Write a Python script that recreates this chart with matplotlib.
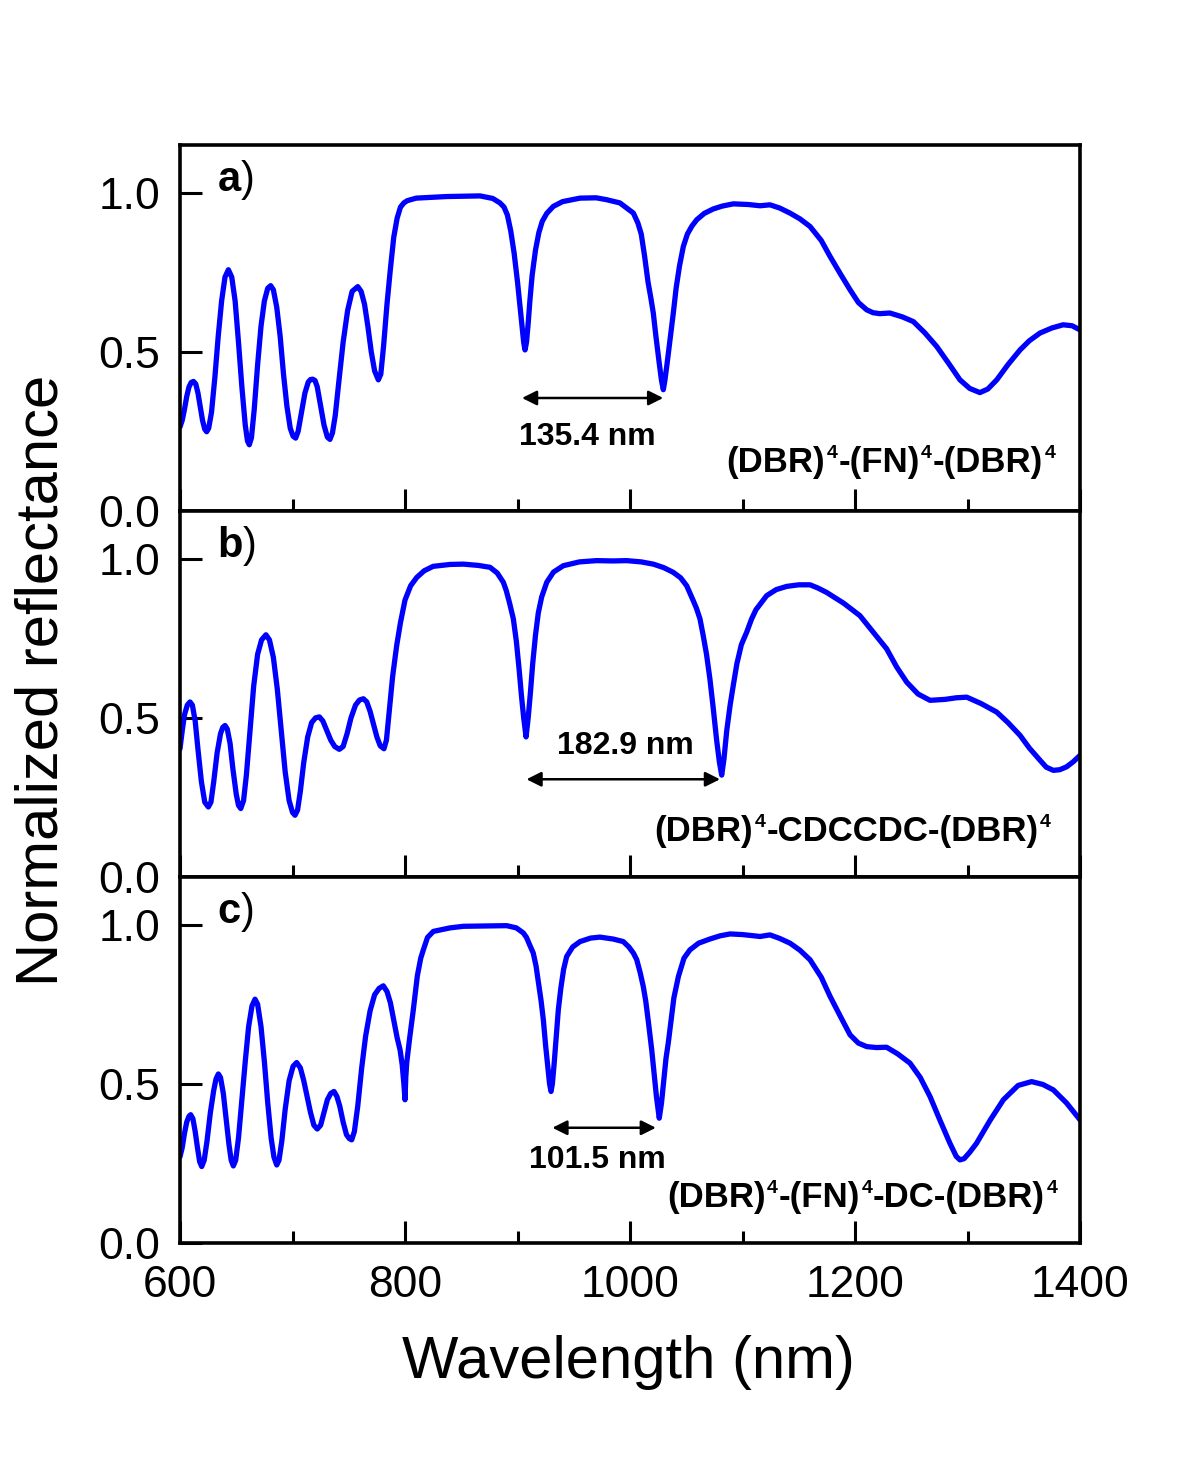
import matplotlib
matplotlib.use("Agg")
import matplotlib.pyplot as plt
from matplotlib.ticker import MultipleLocator

plt.rcParams['font.family'] = ['Liberation Sans', 'DejaVu Sans']
plt.rcParams['mathtext.fontset'] = 'custom'
plt.rcParams['mathtext.rm'] = 'Liberation Sans'
plt.rcParams['mathtext.bf'] = 'Liberation Sans:bold'
plt.rcParams['mathtext.it'] = 'Liberation Sans:italic'

# ---------------- data ----------------
wl_a = [600, 602, 604, 606, 608, 610, 612, 614, 616, 618, 620, 622, 623.7,
        625.5, 628, 631, 634, 637, 640, 643, 646, 649, 652, 655, 658, 660, 661.6,
        663.5, 666, 669, 672, 675, 678, 680.6, 683, 686, 689, 692, 695, 698, 700.5, 702.8,
        705, 708, 711, 714, 716, 718, 720, 722, 725, 728, 731, 733.3,
        735.5, 738, 741, 745, 749, 753, 758, 761, 764, 767, 770, 773, 776.3,
        778.5, 781, 784, 787, 790, 793, 796, 799, 802, 810, 837, 866.7, 878,
        884.4, 888, 891, 894, 897, 900, 902, 904, 905.5, 906.7, 908, 909.5, 911, 913, 916, 919, 922, 926,
        931.8, 940, 955.6, 970, 979.3, 991,
        1003, 1007, 1010, 1013, 1016, 1018.5, 1020.7, 1023, 1026, 1028, 1029.6, 1031, 1033, 1036, 1038.5,
        1041, 1044, 1047.4, 1051, 1055, 1059.3, 1066, 1074, 1082, 1091.8, 1105, 1115.6, 1124.4,
        1133, 1142.2, 1151, 1160, 1170, 1177.8, 1187, 1195.6, 1203, 1210.4, 1216, 1222, 1231, 1242,
        1251.9, 1262, 1272.6, 1283, 1293.3, 1302, 1311, 1318, 1326, 1336, 1346.7, 1355, 1364.4, 1375,
        1385, 1393, 1400]
r_a = [0.264, 0.285, 0.32, 0.36, 0.39, 0.404, 0.407, 0.399, 0.37, 0.328, 0.285, 0.257, 0.249,
       0.26, 0.31, 0.42, 0.55, 0.66, 0.735, 0.758, 0.735, 0.66, 0.53, 0.39, 0.27, 0.22, 0.208,
       0.23, 0.32, 0.46, 0.58, 0.66, 0.70, 0.708, 0.695, 0.64, 0.55, 0.43, 0.33, 0.26, 0.235, 0.229,
       0.25, 0.31, 0.37, 0.405, 0.413, 0.414, 0.41, 0.39, 0.33, 0.27, 0.232, 0.225,
       0.245, 0.30, 0.40, 0.53, 0.63, 0.69, 0.705, 0.69, 0.65, 0.58, 0.50, 0.44, 0.412,
       0.43, 0.52, 0.65, 0.76, 0.86, 0.92, 0.955, 0.968, 0.975, 0.983, 0.988, 0.99, 0.982,
       0.968, 0.955, 0.93, 0.88, 0.81, 0.72, 0.65, 0.58, 0.53, 0.506, 0.53, 0.59, 0.66, 0.74, 0.82, 0.875,
       0.91, 0.935,
       0.957, 0.972, 0.983, 0.984, 0.978, 0.968,
       0.936, 0.905, 0.87, 0.80, 0.72, 0.67, 0.622, 0.55, 0.464, 0.41, 0.381, 0.41, 0.464, 0.55, 0.622,
       0.70, 0.77, 0.831, 0.87, 0.895, 0.915, 0.935, 0.949, 0.958, 0.965, 0.963, 0.959, 0.962,
       0.952, 0.936, 0.918, 0.894, 0.85, 0.80, 0.745, 0.695, 0.655, 0.632, 0.623, 0.62, 0.622, 0.61,
       0.595, 0.56, 0.517, 0.465, 0.412, 0.385, 0.372, 0.383, 0.412, 0.46, 0.506, 0.535, 0.559, 0.575,
       0.585, 0.582, 0.569]

wl_b = [600, 602, 604, 606.5, 608.9, 611, 613.5, 616, 619, 622, 625.2,
        627.5, 630, 633, 636, 638, 640, 642, 644.5, 647, 650, 652, 654,
        656.5, 659, 662, 665.5, 669, 672.5, 676.4, 679.5, 683, 686.5, 690, 693.5, 697, 700, 702.2,
        704.5, 707, 710, 713.5, 717, 720.5, 723.9, 727, 730.5, 734, 737.5, 741.6,
        745, 748.5, 752, 756, 759.5, 763, 766, 769, 772, 775, 778, 781.3,
        783.5, 786, 789, 792.6, 796, 800, 805, 810.4, 817, 825, 840, 851.9, 865, 875.6, 882,
        887.4, 890, 893, 896.3, 899, 901.5, 903.5, 905.5, 907.6, 909.5, 911.5, 913.5, 916, 918.5, 921.5, 926,
        932, 940.7, 955, 970.4, 985, 997, 1010, 1020.7, 1030, 1038.5, 1045, 1050.4,
        1056, 1059, 1062.2, 1065, 1068, 1071, 1074, 1077, 1079.5, 1081.5, 1083.5, 1086, 1089, 1091.8,
        1095, 1099, 1103.7, 1108, 1112, 1121.5, 1130, 1139.3, 1150, 1160, 1167, 1174.8, 1190, 1204.4,
        1216, 1228.1, 1237, 1246, 1256, 1266.7, 1280, 1290, 1299.3, 1312, 1326, 1336, 1346.7, 1355,
        1364.4, 1370, 1376.3, 1382, 1388, 1394, 1400]
r_b = [0.403, 0.46, 0.51, 0.54, 0.55, 0.54, 0.49, 0.40, 0.30, 0.235, 0.22,
       0.235, 0.30, 0.39, 0.45, 0.47, 0.476, 0.465, 0.42, 0.34, 0.26, 0.225, 0.215,
       0.24, 0.32, 0.45, 0.60, 0.70, 0.745, 0.761, 0.745, 0.69, 0.59, 0.46, 0.33, 0.24, 0.203, 0.194,
       0.21, 0.27, 0.36, 0.44, 0.485, 0.50, 0.503, 0.49, 0.46, 0.43, 0.41, 0.401,
       0.41, 0.45, 0.50, 0.54, 0.556, 0.56, 0.55, 0.52, 0.48, 0.44, 0.412, 0.403,
       0.43, 0.52, 0.63, 0.727, 0.80, 0.87, 0.915, 0.941, 0.962, 0.976, 0.982, 0.983, 0.979, 0.973, 0.955,
       0.926, 0.90, 0.86, 0.811, 0.74, 0.65, 0.57, 0.50, 0.44, 0.50, 0.58, 0.67, 0.76, 0.83, 0.88, 0.926,
       0.958, 0.978, 0.99, 0.994, 0.993, 0.994, 0.99, 0.983, 0.972, 0.957, 0.94, 0.915,
       0.87, 0.845, 0.811, 0.76, 0.70, 0.623, 0.53, 0.43, 0.36, 0.32, 0.37, 0.46, 0.54, 0.602,
       0.67, 0.73, 0.769, 0.81, 0.84, 0.884, 0.903, 0.913, 0.918, 0.918, 0.908, 0.894, 0.86, 0.821,
       0.77, 0.717, 0.66, 0.612, 0.575, 0.555, 0.558, 0.563, 0.565, 0.545, 0.518, 0.485, 0.445, 0.405,
       0.367, 0.345, 0.335, 0.337, 0.346, 0.362, 0.382]

wl_c = [600, 602, 604, 606, 608, 609.5, 611.5, 613.5, 615.5, 617.5, 619.3,
        621.5, 624, 627, 630, 632, 634.1, 636, 638.5, 641, 643.5, 645.5, 647.4,
        649.5, 652, 655, 658, 661, 664, 666.7, 669, 672, 675, 678, 681, 683.5, 686,
        688, 690.5, 693.5, 697, 700.5, 703.7, 707, 710, 713, 716, 719, 722,
        725, 728, 731, 734, 736.9, 739.5, 742, 745, 748, 750.5, 752.6,
        755, 758, 761.5, 765, 769, 773, 777, 780.7, 784, 787, 790, 793, 795.6, 797.5, 799, 800,
        800.7, 801.5, 804, 807.4, 811, 814, 816.3, 820, 825.2, 840, 851.9, 870, 890.4, 899,
        905.2, 908, 911, 914, 916.5, 919, 921, 923, 925, 927, 928.5, 929.8, 931, 932.5, 934.5, 936.3,
        938.5, 941, 943.7, 949, 955.6, 965, 973.3, 985,
        994, 999, 1003, 1006, 1009, 1011.8, 1014, 1016.5, 1019.3, 1021.5, 1023.5, 1026, 1028, 1030, 1032,
        1034, 1036.5, 1039, 1043, 1048, 1053.3, 1061, 1071, 1080, 1088.9, 1100, 1115.6, 1124.4,
        1133, 1142.2, 1151, 1160, 1170, 1177.8, 1187, 1195.6, 1203, 1210.4, 1219, 1228.1, 1238,
        1248.9, 1258, 1266.7, 1275, 1284.4, 1290, 1293.3, 1297, 1302, 1308, 1320, 1331.9, 1345, 1357,
        1367, 1376.3, 1388, 1400]
r_c = [0.271, 0.30, 0.345, 0.38, 0.398, 0.403, 0.39, 0.35, 0.30, 0.255, 0.24,
       0.26, 0.32, 0.41, 0.48, 0.515, 0.531, 0.52, 0.47, 0.39, 0.31, 0.26, 0.242,
       0.26, 0.33, 0.45, 0.57, 0.68, 0.745, 0.766, 0.75, 0.68, 0.57, 0.44, 0.33, 0.27, 0.245,
       0.26, 0.32, 0.42, 0.51, 0.555, 0.567, 0.55, 0.51, 0.46, 0.41, 0.37, 0.358,
       0.37, 0.41, 0.45, 0.47, 0.476, 0.46, 0.43, 0.38, 0.34, 0.328, 0.324,
       0.35, 0.43, 0.55, 0.65, 0.73, 0.78, 0.80, 0.808, 0.79, 0.755, 0.70, 0.645, 0.607, 0.56, 0.50, 0.45,
       0.52, 0.565, 0.64, 0.733, 0.84, 0.895, 0.921, 0.96, 0.979, 0.99, 0.995, 0.996, 0.997, 0.99,
       0.974, 0.96, 0.935, 0.911, 0.87, 0.81, 0.76, 0.70, 0.62, 0.55, 0.50, 0.476, 0.50, 0.56, 0.65, 0.733,
       0.80, 0.86, 0.90, 0.93, 0.947, 0.958, 0.961, 0.955,
       0.947, 0.93, 0.911, 0.89, 0.85, 0.806, 0.76, 0.69, 0.607, 0.53, 0.46, 0.392, 0.44, 0.51, 0.58,
       0.628, 0.70, 0.77, 0.837, 0.895, 0.921, 0.942, 0.955, 0.965, 0.971, 0.969, 0.963, 0.968,
       0.957, 0.942, 0.92, 0.89, 0.835, 0.775, 0.712, 0.654, 0.628, 0.617, 0.614, 0.615, 0.594,
       0.565, 0.52, 0.46, 0.39, 0.313, 0.272, 0.261, 0.265, 0.285, 0.313, 0.385, 0.45, 0.495, 0.507,
       0.498, 0.481, 0.44, 0.387]

panel_tags = ['a', 'b', 'c']
# structure labels: pieces of normal text alternating with superscripts
structures = [['(DBR)', '4', '-(FN)', '4', '-(DBR)', '4'],
              ['(DBR)', '4', '-CDCCDC-(DBR)', '4'],
              ['(DBR)', '4', '-(FN)', '4', '-DC-(DBR)', '4']]
gap_labels = ['135.4 nm', '182.9 nm', '101.5 nm']
arrow_start = [904, 908, 931]
arrow_end = [1029.5, 1080, 1023]
arrow_y = [0.355, 0.307, 0.362]
gap_text_x = [962, 996, 971]
gap_text_y = [0.233, 0.41, 0.26]
struct_x = [1086, 1022, 1033]
struct_y = [0.10, 0.09, 0.09]

x_ticks = [600, 800, 1000, 1200, 1400]
y_ticks = [0.0, 0.5, 1.0]

series = [(wl_a, r_a), (wl_b, r_b), (wl_c, r_c)]

# ---------------- figure ----------------
fig = plt.figure(figsize=(12, 14.63), dpi=100)
left, right = 0.15, 0.90
bottom, top = 0.1504, 0.9009
h = (top - bottom) / 3.0
axes = []
for i in range(3):
    ax = fig.add_axes([left, top - (i + 1) * h, right - left, h])
    axes.append(ax)

big = dict(fontsize=25, fontweight='bold')
small = dict(fontsize=14, fontweight='bold')

for i, ax in enumerate(axes):
    wl, r = series[i]
    ax.plot(wl, r, color='#0000ff', lw=3.8, solid_joinstyle='round', solid_capstyle='round')
    ax.set_xlim(600, 1400)
    ax.set_ylim(0, 1.15)
    ax.set_xticks(x_ticks)
    ax.xaxis.set_minor_locator(MultipleLocator(100))
    ax.set_yticks(y_ticks)
    ax.set_yticklabels(['%.1f' % v for v in y_ticks])
    ax.tick_params(axis='both', which='major', direction='in', length=16, width=2.2,
                   labelsize=32, top=False, right=False)
    ax.tick_params(axis='x', which='minor', direction='in', length=9, width=2.2, top=False)
    ax.tick_params(axis='y', which='major', pad=14)
    ax.tick_params(axis='x', which='major', pad=16)
    if i < 2:
        ax.tick_params(axis='x', labelbottom=False)
    for sp in ax.spines.values():
        sp.set_linewidth(2.6)

    # panel tag
    ax.text(633, 1.04, '$\\mathbf{%s}$)' % panel_tags[i], fontsize=30, ha='left', va='center')

    # gap arrow
    ax.annotate('', xy=(arrow_end[i], arrow_y[i]), xytext=(arrow_start[i], arrow_y[i]),
                arrowprops=dict(arrowstyle='<|-|>', color='black', lw=1.8,
                                mutation_scale=22, shrinkA=0, shrinkB=0))
    ax.text(gap_text_x[i], gap_text_y[i], gap_labels[i], fontsize=23, fontweight='bold',
            ha='center', va='center')

    # structure label with small raised superscripts, chained left to right
    pieces = structures[i]
    last_big = ax.text(struct_x[i], struct_y[i], pieces[0], ha='left', va='bottom', **big)
    prev = last_big
    for k in range(1, len(pieces)):
        if k % 2 == 1:
            prev = ax.annotate(pieces[k], xy=(1, 1), xycoords=last_big,
                               xytext=(1, 1), textcoords='offset points',
                               ha='left', va='top', **small)
        else:
            last_big = ax.annotate(pieces[k], xy=(1, 0), xycoords=(prev, last_big),
                                   xytext=(0.5, 0), textcoords='offset points',
                                   ha='left', va='bottom', **big)
            prev = last_big

fig.text(0.035, 0.535, 'Normalized reflectance', rotation=90, fontsize=43,
         ha='center', va='center')
fig.text(0.524, 0.069, 'Wavelength (nm)', fontsize=43, ha='center', va='center')

fig.savefig('out.png', dpi=100, facecolor='white')
